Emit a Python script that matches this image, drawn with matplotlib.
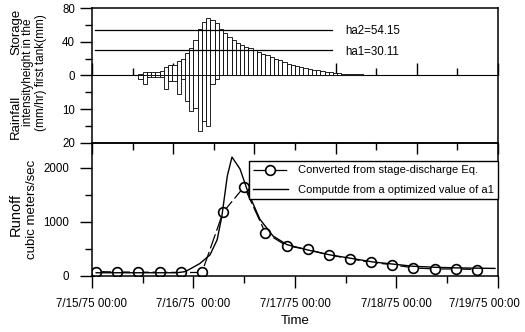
import numpy as np
import matplotlib
matplotlib.use('Agg')
from matplotlib import pyplot as plt
from matplotlib.transforms import ScaledTranslation

plt.rcParams['font.family'] = ['Liberation Sans', 'DejaVu Sans']

# storage height in the first tank (mm), hourly from 7/15 11:00
storage_hours = list(range(11, 78))
storage_mm = [2, 4, 4, 4, 4, 5, 10, 12, 12, 17, 19, 27, 33, 42, 55, 63, 68, 66, 62, 55,
              50, 46, 42, 39, 36, 34, 32, 30, 28, 26, 24, 22, 20, 18, 16, 14, 12.5, 11,
              10, 9, 8, 7, 6, 5, 4.3, 3.7, 3.2, 2.7, 2.3, 2.0, 1.7, 1.4, 1.2, 1.0, 0.9,
              0.8, 0.7, 0.7, 0.6, 0.6, 0.5, 0.5, 0.5, 0.4, 0.4, 0.3, 0.3]

# rainfall intensity (mm/hr)
rain_hours = list(range(11, 30))
rain_mm = [1, 2.5, 0.5, 0.5, 0.5, 0.5, 4, 1.5, 1.5, 5.5, 1, 7.5, 10.5, 9.5, 16.5, 13.5,
           15, 2.5, 1]

ha2 = 54.15
ha1 = 30.11

# runoff (cubic meters/sec)
obs_hours = [1, 6, 11, 16, 21, 26, 31, 36, 41, 46, 51, 56, 61, 66, 71, 76, 81, 86, 91]
obs_q = [80, 75, 70, 70, 65, 65, 1180, 1650, 800, 560, 490, 390, 320, 250, 210, 150,
         130, 130, 120]

calc_hours = [1, 10, 20, 22, 23.2, 25.5, 27.9, 29.6, 30.7, 32, 33.1, 35, 36.9, 39.7,
              42.8, 46.1, 51.1, 56.3, 61, 66.4, 71.2, 75.9, 81.6, 86.3, 95.3]
calc_q = [60, 60, 60, 80, 130, 230, 390, 670, 1100, 1850, 2200, 1980, 1550, 1050, 740,
          580, 480, 390, 330, 260, 220, 180, 160, 150, 140]

day_ticks = [0, 24, 48, 72, 96]
day_labels = ['7/15/75 00:00', '7/16/75  00:00', '7/17/75 00:00', '7/18/75 00:00',
              '7/19/75 00:00']

RAIN_SCALE = 4.0   # 10 mm/hr drawn as 40 units below zero

fig = plt.figure(figsize=(5.25, 3.32), dpi=100)
ax1 = fig.add_axes([0.1752, 0.5693, 0.7733, 0.4066])
ax2 = fig.add_axes([0.1752, 0.1687, 0.7733, 0.4006])
ax2.patch.set_visible(False)

# ---- top panel: storage and rainfall ----
ax1.bar(storage_hours, storage_mm, width=1, align='edge', facecolor='white',
        edgecolor='black', linewidth=0.6)
ax1.bar(rain_hours, -RAIN_SCALE * np.array(rain_mm), width=1, align='edge',
        facecolor='white', edgecolor='black', linewidth=0.6)
ax1.plot([0.7, 56.7], [ha2, ha2], color='black', lw=0.9)
ax1.plot([0.7, 56.7], [ha1, ha1], color='black', lw=0.9)
ax1.text(59.8, ha2 - 2, 'ha2=54.15', fontsize=8.3, va='center')
ax1.text(59.8, ha1 - 2, 'ha1=30.11', fontsize=8.3, va='center')

ax1.set_xlim(0, 96)
ax1.set_ylim(-80, 80)
ax1.set_yticks([80, 40, 0, -40, -80])
ax1.set_yticklabels(['80', '40', '0', '10', '20'])
ax1.set_yticks([60, 20, -20, -60], minor=True)
top_major = np.arange(0, 96.1, 19.2)
top_minor = np.arange(9.6, 96, 19.2)
ax1.set_xticks(top_major)
ax1.set_xticks(top_minor, minor=True)
ax1.set_xticklabels([])
ax1.tick_params(axis='y', which='major', direction='out', length=8.6, width=1,
                labelsize=8.3, pad=3.5)
ax1.tick_params(axis='y', which='minor', direction='out', length=5, width=1)
ax1.tick_params(axis='x', which='major', direction='out', length=8, width=1)
ax1.tick_params(axis='x', which='minor', direction='out', length=5, width=1)

zero_ax = ax1.secondary_xaxis(0.5)
zero_ax.set_xticks(top_major)
zero_ax.set_xticks(top_minor, minor=True)
zero_ax.set_xticklabels([])
zero_ax.tick_params(which='major', direction='out', length=9, width=1)
zero_ax.tick_params(which='minor', direction='out', length=5, width=1)
zero_ax.spines['bottom'].set_linewidth(1.1)

for sp in ax1.spines.values():
    sp.set_linewidth(1.1)

# ---- bottom panel: runoff ----
ax2.plot(obs_hours, obs_q, color='black', lw=0.9, ls=(0, (12, 3)), marker='o',
         markersize=7, markerfacecolor='white', markeredgewidth=1.2,
         label='Converted from stage-discharge Eq.')
ax2.plot(calc_hours, calc_q, color='black', lw=1.0,
         label='Computde from a optimized value of a1')
ax2.set_xlim(0, 96)
ax2.set_ylim(0, 2460)
ax2.set_xticks(day_ticks)
ax2.set_xticklabels(day_labels)
ax2.set_xticks([12, 36, 60, 84], minor=True)
ax2.set_yticks([0, 1000, 2000])
ax2.set_yticks([500, 1500], minor=True)
ax2.tick_params(which='major', direction='out', length=8.6, width=1, labelsize=8.3)
ax2.tick_params(which='minor', direction='out', length=5, width=1)
ax2.tick_params(axis='x', pad=7)
ax2.tick_params(axis='y', pad=8)
for sp in ax2.spines.values():
    sp.set_linewidth(1.1)

# last date label sits a little left so it stays inside the picture
last = ax2.get_xticklabels()[-1]
last.set_transform(last.get_transform() + ScaledTranslation(-0.14, 0, fig.dpi_scale_trans))

leg = ax2.legend(loc='upper right', bbox_to_anchor=(1.0, 0.865), borderaxespad=0,
                 fontsize=8, handlelength=3.1, handletextpad=0.9, borderpad=0.4,
                 labelspacing=0.85, fancybox=False, framealpha=1)
leg.get_frame().set_edgecolor('black')
leg.get_frame().set_linewidth(1.0)

ax2.set_xlabel('Time', fontsize=9.5, labelpad=4)

# stacked axis titles
fig.text(16 / 525, 1 - 117 / 332, 'Rainfall', rotation=90, fontsize=9.5,
         ha='center', va='center')
fig.text(16 / 525, 1 - 32 / 332, 'Storage', rotation=90, fontsize=9.5,
         ha='center', va='center')
fig.text(28.5 / 525, 1 - 72 / 332, 'intensityheight in the', rotation=90, fontsize=8.5,
         ha='center', va='center')
fig.text(41 / 525, 1 - 73 / 332, '(mm/hr) first tank(mm)', rotation=90, fontsize=8.5,
         ha='center', va='center')
fig.text(16 / 525, 1 - 214 / 332, 'Runoff', rotation=90, fontsize=10.5,
         ha='center', va='center')
fig.text(32 / 525, 1 - 209 / 332, 'cubic meters/sec', rotation=90, fontsize=9.5,
         ha='center', va='center')

plt.savefig('out.png', dpi=100)
